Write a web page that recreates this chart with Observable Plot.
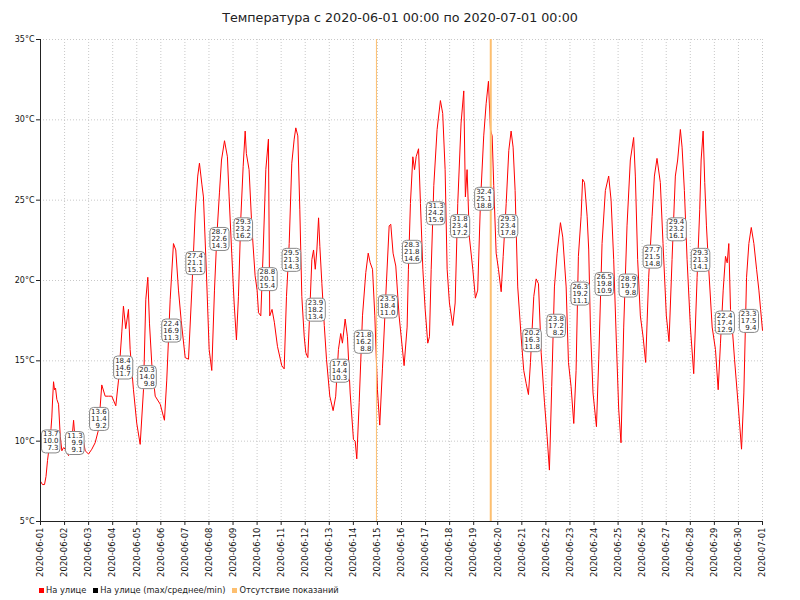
<!DOCTYPE html>
<html><head><meta charset="utf-8">
<script src="https://cdn.jsdelivr.net/npm/d3@7"></script>
<script src="https://cdn.jsdelivr.net/npm/@observablehq/plot@0.6"></script>
<style>
body{margin:0;background:#fff;font-family:"DejaVu Sans",sans-serif;}
#wrap{position:relative;width:800px;height:600px;overflow:hidden;}
#title{position:absolute;top:10px;left:0;width:800px;text-align:center;font-size:12.7px;line-height:15px;color:#222;}
#legend{position:absolute;top:585px;left:39px;font-size:8.3px;line-height:10px;color:#222;white-space:nowrap;}
.sw{display:inline-block;width:5px;height:5px;margin-right:2px;vertical-align:0px;}
.it{margin-right:7px;}
</style></head><body>
<div id="wrap"><div id="chart"></div>
<div id="title">Температура с 2020-06-01 00:00 по 2020-07-01 00:00</div>
<div id="legend"></div></div>
<script>
// ---- data ----
const startDate = "2020-06-01T00:00:00Z";
const endDate = "2020-07-01T00:00:00Z";
const xTickLabels = ["2020-06-01","2020-06-02","2020-06-03","2020-06-04","2020-06-05","2020-06-06","2020-06-07","2020-06-08","2020-06-09","2020-06-10","2020-06-11","2020-06-12","2020-06-13","2020-06-14","2020-06-15","2020-06-16","2020-06-17","2020-06-18","2020-06-19","2020-06-20","2020-06-21","2020-06-22","2020-06-23","2020-06-24","2020-06-25","2020-06-26","2020-06-27","2020-06-28","2020-06-29","2020-06-30","2020-07-01"];
const yTicks = [5,10,15,20,25,30,35];

// hours since 2020-06-01 00:00 and the outdoor temperature (°C)
const readingHours = [
 0,2,4,5.5,7,9,10.5,11.3,12,13,14,15,16.3,18,19.7,21.3,23,
 24.6,28,31.3,33,34.6,38,41.3,44.6,47.9,
 51.2,54.5,57.8,61.1,64.5,67.8,71.1,
 75.1,77.8,81.1,82.7,85,87.7,89.4,92.7,96,
 99.4,102.7,105,107,108.7,111,114.4,119.4,
 123.6,125.9,129.3,132.6,134.9,137.6,140.3,144.3,
 147.6,150.9,154.3,156.8,158.5,160.9,162.5,165.2,168.2,
 170.8,173.5,175.8,178.5,180.5,183.5,186.4,188.1,190.7,193.1,
 195.4,197.4,199.7,202.1,204.1,205.3,208,210.7,214,
 216,217.4,219.7,222.1,224.7,227.3,228.6,230.9,233.2,236.3,240.6,
 243,245.3,248,250.6,253,254.6,256.6,258.6,260.6,263,
 264.6,266.6,268.6,270.6,272.3,274,275.6,277.3,278.6,280.6,283,285.2,
 288.5,291.8,294.4,297.1,299.4,301.1,303.8,306.1,308.8,
 312.1,313.8,315.4,317.8,321.1,324.4,326.8,328.8,331.1,333.4,
 336,338.3,341,344.3,347.7,349.3,351.6,354.3,357.6,
 360,362.6,365.6,366.9,368.9,371.3,373,374.6,377,378.9,381.3,383.6,
 386.2,387.9,389.6,392.2,395.5,398.8,401.1,403.5,405.5,
 407.8,411.1,413.5,416.1,419.4,422.1,423.7,425.4,427.7,431.1,
 433.7,436,438.7,442,444.4,446.7,448.7,450.4,452,454.4,
 456.7,459.4,461.4,464.4,467,469.3,471.3,473.3,475.9,479.3,
 481.9,484.3,486.6,488.6,491.9,494.3,496.6,499.3,502.6,
 505.2,507.5,509.8,512.5,515.2,518.5,520.8,524.2,526.5,
 529.1,531.8,534.1,536.4,539.1,540.6,542.5,545.1,546.7,548.4,551,
 554.4,556.7,560,563.3,566.6,569,571.6,574.3,
 576.6,578.9,581.6,584.9,588.2,591.5,593.2,595.5,598.2,
 600.9,603.5,606.5,609.9,612.2,614.8,618.1,620.8,624.1,
 626.8,629.8,633.1,635.4,638.1,639.8,642.1,644.8,648.1,
 651.4,654.8,657.4,658.8,660.8,662.4,664.1,666.4,669.8,
 673.1,675.8,678.1,680.8,683.1,684.8,686.4,688.1,689.8,692.1,694.8,
 697.4,699.1,701.4,704.1,706.4,708.8,711.4,714.1,716.4,718.1,720
];
const readingTemps = [
 7.5,7.3,7.3,7.8,8.8,9.8,10.8,11.5,12.5,13.7,13.2,13.3,12.6,12.3,10.3,9.4,9.6,
 9.5,9.1,10.1,11.3,10.0,9.6,10.5,9.4,9.2,
 9.5,9.9,10.7,13.5,12.8,12.8,12.8,
 12.2,13.8,16.8,18.4,17.0,18.2,15.7,13.2,11.1,
 9.8,13.2,18.8,20.2,17.3,14.8,12.8,12.3,
 11.3,13.8,18.8,22.3,21.9,19.4,17.5,15.2,
 15.1,19.4,24.2,26.5,27.3,26.0,25.2,20.9,15.7,
 14.4,19.4,22.7,25.5,27.5,28.7,27.7,25.2,21.7,18.6,
 16.3,19.0,23.8,27.1,29.3,27.9,26.9,23.4,20.3,
 19.4,18.0,17.8,21.9,26.9,28.8,17.8,18.2,17.4,15.9,14.7,
 14.5,19.0,22.3,27.3,28.8,29.5,29.0,24.4,19.0,16.5,
 15.5,15.2,18.2,21.3,21.9,20.7,21.9,23.9,22.1,19.8,17.2,15.1,
 12.8,11.9,12.8,15.7,16.7,16.1,17.6,16.5,13.0,
 10.1,10.0,8.9,12.4,17.8,20.5,21.7,21.1,20.7,17.8,
 13.2,11.0,14.5,19.0,23.4,23.5,21.7,20.9,17.8,
 16.3,14.7,17.1,20.7,24.8,27.7,26.9,27.7,28.2,24.8,20.7,18.2,
 16.1,16.5,20.7,25.9,29.4,31.2,30.4,26.9,20.7,
 18.6,17.2,18.6,24.8,29.8,31.8,25.2,26.9,22.7,20.7,
 18.9,19.4,24.8,29.0,31.0,32.4,29.4,29.0,25.9,21.7,
 20.7,19.3,21.5,24.8,28.1,29.3,28.3,25.6,19.6,16.5,
 14.4,13.6,12.9,14.9,19.0,20.1,19.8,15.5,12.4,
 10.3,8.2,13.4,19.6,21.7,23.6,22.7,19.6,14.9,
 13.4,11.1,14.4,21.5,24.0,26.3,26.1,24.0,21.9,17.1,13.0,
 10.9,15.1,22.3,25.6,26.5,25.0,21.3,16.1,
 12.0,9.9,17.1,23.4,27.5,28.9,26.5,21.3,17.8,
 16.5,14.9,20.2,24.0,26.5,27.6,26.1,22.3,17.8,
 16.2,21.3,26.5,27.5,29.4,28.3,25.6,21.3,17.1,
 14.2,20.2,24.4,27.5,29.3,26.1,23.4,20.7,17.1,
 15.7,13.2,16.1,19.4,21.5,21.1,22.3,18.2,17.1,15.1,13.0,
 10.9,9.5,13.0,20.2,22.3,23.3,22.3,20.7,19.4,18.2,16.9
];

// daily statistics (max / mean / min)
const dayDates = ["2020-06-01","2020-06-02","2020-06-03","2020-06-04","2020-06-05","2020-06-06","2020-06-07","2020-06-08","2020-06-09","2020-06-10","2020-06-11","2020-06-12","2020-06-13","2020-06-14","2020-06-15","2020-06-16","2020-06-17","2020-06-18","2020-06-19","2020-06-20","2020-06-21","2020-06-22","2020-06-23","2020-06-24","2020-06-25","2020-06-26","2020-06-27","2020-06-28","2020-06-29","2020-06-30"];
const dayMax = [13.7,11.3,13.6,18.4,20.3,22.4,27.4,28.7,29.3,28.8,29.5,23.9,17.6,21.8,23.5,28.3,31.3,31.8,32.4,29.3,20.2,23.8,26.3,26.5,28.9,27.7,29.4,29.3,22.4,23.3];
const dayAvg = [10.0,9.9,11.4,14.6,14.0,16.9,21.1,22.6,23.2,20.1,21.3,18.2,14.4,16.2,18.4,21.8,24.2,23.4,25.1,23.4,16.3,17.2,19.2,19.8,19.7,21.5,23.2,21.3,17.4,17.5];
const dayMin = [7.3,9.1,9.2,11.7,9.8,11.3,15.1,14.3,16.2,15.4,14.3,13.4,10.3,8.8,11.0,14.6,15.9,17.2,18.8,17.8,11.8,8.2,11.1,10.9,9.8,14.8,16.1,14.1,12.9,9.4];

// periods without readings
const gapStarts = ["2020-06-14T23:00:00Z","2020-06-19T16:30:00Z"];
const gapEnds   = ["2020-06-15T00:00:00Z","2020-06-19T18:30:00Z"];

const legendItems = ["На улице","На улице (max/среднее/min)","Отсутствие показаний"];
const legendColors = ["#ff0000","#000000","#fdbf6f"];

// ---- build ----
const t0 = new Date(startDate);
const readings = readingHours.map((h,i) => ({t: new Date(+t0 + h*3600e3), v: readingTemps[i]}));
const days = dayDates.map((d,i) => ({
  t: new Date(d + "T12:00:00Z"), avg: dayAvg[i],
  label: dayMax[i].toFixed(1) + "\n" + dayAvg[i].toFixed(1) + "\n" + dayMin[i].toFixed(1)
}));
const gaps = gapStarts.map((s,i) => ({s: new Date(s), e: new Date(gapEnds[i])}));
const xTicks = xTickLabels.map(s => new Date(s + "T00:00:00Z"));
const fmt = d3.utcFormat("%Y-%m-%d");

const chart = Plot.plot({
  width: 800, height: 585,
  marginLeft: 40, marginRight: 38, marginTop: 39, marginBottom: 64,
  style: {fontFamily: "DejaVu Sans, sans-serif", color: "#111", background: "#fff"},
  x: {type: "utc", domain: [new Date(startDate), new Date(endDate)]},
  y: {domain: [5, 35]},
  marks: [
    Plot.gridY(yTicks, {stroke: "#c8c8c8", strokeOpacity: 1, strokeDasharray: "1,2"}),
    Plot.gridX(xTicks, {stroke: "#c8c8c8", strokeOpacity: 1, strokeDasharray: "1,2"}),
    Plot.line(readings, {x: "t", y: "v", stroke: "#ff0000", strokeWidth: 1}),
    Plot.rect(gaps, {x1: "s", x2: "e", fill: "#fdbf6f"}),
    Plot.text(days, {x: "t", y: "avg", text: "label", fontSize: 7, lineHeight: 1, textAnchor: "end", dx: 6, fill: "#222", className: "daybox"}),
    Plot.axisY(yTicks, {tickFormat: d => d + "°C", tickSize: 4, tickPadding: 2, fontSize: 8, label: null, stroke: "#222"}),
    Plot.axisX(xTicks, {tickFormat: fmt, tickRotate: -90, tickSize: 4, tickPadding: 2, fontSize: 8.5, label: null, stroke: "#222"}),
    Plot.ruleX([new Date(startDate)], {stroke: "#222"}),
    Plot.ruleY([5], {stroke: "#222"})
  ]
});
document.getElementById("chart").appendChild(chart);

// rounded boxes behind the daily statistics
chart.querySelectorAll("g.daybox text").forEach(t => {
  const bb = t.getBBox();
  const r = document.createElementNS("http://www.w3.org/2000/svg", "rect");
  r.setAttribute("x", bb.x - 1.5); r.setAttribute("y", bb.y - 0.5);
  r.setAttribute("width", bb.width + 3); r.setAttribute("height", bb.height + 1);
  r.setAttribute("rx", 4); r.setAttribute("fill", "#fff"); r.setAttribute("stroke", "#888");
  r.setAttribute("stroke-width", 1);
  const tr = t.getAttribute("transform"); if (tr) r.setAttribute("transform", tr);
  t.parentNode.insertBefore(r, t);
});

// legend
const lg = document.getElementById("legend");
legendItems.forEach((name,i) => {
  const s = document.createElement("span"); s.className = "it";
  s.innerHTML = '<span class="sw" style="background:' + legendColors[i] + '"></span>' + name;
  lg.appendChild(s);
});
</script>
</body></html>
